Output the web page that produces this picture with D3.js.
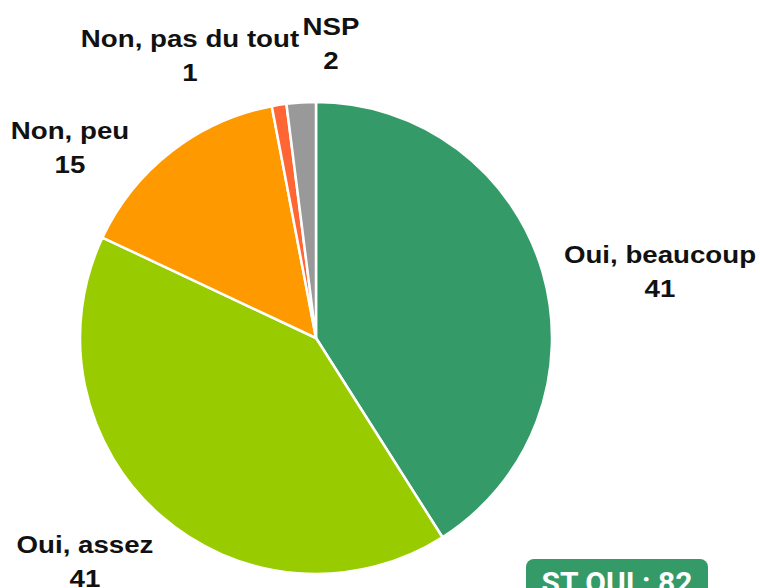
<!DOCTYPE html>
<html><head><meta charset="utf-8">
<script src="https://cdn.jsdelivr.net/npm/d3@7"></script>
<style>body{margin:0;background:#fff;overflow:hidden}</style>
</head><body>
<svg id="c" width="760" height="588"></svg>
<script>
const categories = ["Oui, beaucoup", "Oui, assez", "Non, peu", "Non, pas du tout", "NSP"];
const values = [41, 41, 15, 1, 2];
const colors = ["#349a68", "#99cc00", "#ff9900", "#ff6633", "#999999"];
const labelPos = [[660, 263], [85, 553], [70, 139], [190, 47], [331, 35]];
const totalLabel = "ST OUI : 82";

const svg = d3.select("#c");
const cx = 316, cy = 338, r = 236;
const pie = d3.pie().sort(null).value(d => d)(values);
const arc = d3.arc().innerRadius(0).outerRadius(r);
const g = svg.append("g").attr("transform", `translate(${cx},${cy})`);
g.selectAll("path").data(pie).join("path")
  .attr("d", arc)
  .attr("fill", (d, i) => colors[i])
  .attr("stroke", "#fff").attr("stroke-width", 2.5).attr("stroke-linejoin", "round");

const sx = 1.13;
const lab = svg.append("g").attr("font-family", "Liberation Sans, Arial, sans-serif")
  .attr("font-weight", "bold").attr("font-size", 24.5)
  .attr("text-anchor", "middle").attr("fill", "#111");
categories.forEach((c, i) => {
  const x = labelPos[i][0] / sx;
  const t = lab.append("text").attr("transform", `scale(${sx},1)`)
    .attr("x", x).attr("y", labelPos[i][1]);
  t.append("tspan").attr("x", x).text(c);
  t.append("tspan").attr("x", x).attr("dy", 34).text(values[i]);
});

svg.append("rect").attr("x", 526).attr("y", 559).attr("width", 182).attr("height", 50)
  .attr("rx", 8).attr("fill", "#349a68");
svg.append("text").attr("x", 617).attr("y", 593).attr("text-anchor", "middle")
  .attr("font-family", "Roboto, sans-serif").attr("font-weight", "bold").attr("font-size", 30)
  .attr("fill", "#fff").text(totalLabel);
</script>
</body></html>
